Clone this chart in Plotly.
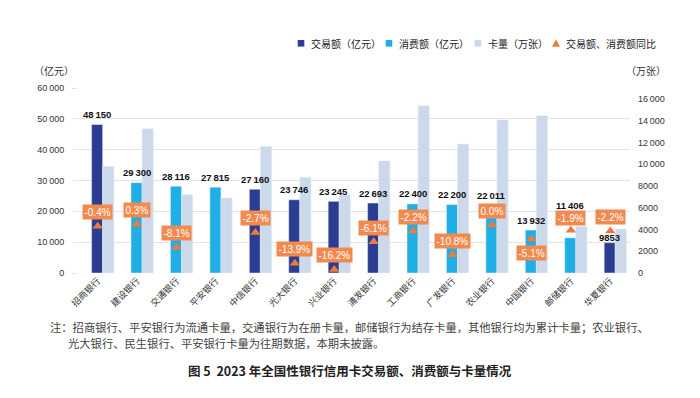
import plotly.graph_objects as go

banks = ["招商银行", "建设银行", "交通银行", "平安银行", "中信银行", "光大银行", "兴业银行",
         "浦发银行", "工商银行", "广发银行", "农业银行", "中国银行", "邮储银行", "华夏银行"]
trade = [48150, None, None, None, 27160, 23746, 23245, 22693, None, None, None, None, None, 9853]
consume = [None, 29300, 28116, 27815, None, None, None, None, 22400, 22200, 22011, 13932, 11406, None]
cards = [9800, 13250, 7200, 6900, 11640, 8790, 7200, 10300, 15360, 11860, 14070, 14460, 4280, 4050]
yoy = [-0.4, 0.3, -8.1, None, -2.7, -13.9, -16.2, -6.1, -2.2, -10.8, 0.0, -5.1, -1.9, -2.2]

left_ticks = [0, 10000, 20000, 30000, 40000, 50000, 60000]
right_ticks = [0, 2000, 4000, 6000, 8000, 10000, 12000, 14000, 16000]

legend_names = ["交易额（亿元）", "消费额（亿元）", "卡量（万张）", "交易额、消费额同比"]


def fmt(v):
    if v is None:
        return ""
    s = f"{int(v)}"
    if len(s) > 4:
        s = s[:-3] + "\u2009" + s[-3:]
    return s


NAVY = "#2A3D93"
CYAN = "#1FAEE5"
PALE = "#CBD9EA"
ORANGE = "#EE7B3A"
LABEL_BG = "#F28A50"
FONT = "Noto Sans CJK SC"
NUMFONT = "Liberation Sans, Arial"

# layout geometry (pixels)
W, H = 700, 398
ML, MR, MT, MB = 78, 70, 88, 125
PW, PH = W - ML - MR, H - MT - MB


def px(x):
    return (x - ML) / PW


def py(y):
    return (H - MB - y) / PH


fig = go.Figure()
fig.add_trace(go.Bar(x=banks, y=trade, name=legend_names[0], marker_color=NAVY,
                     offset=-0.155, width=0.28, yaxis="y", showlegend=False))
fig.add_trace(go.Bar(x=banks, y=consume, name=legend_names[1], marker_color=CYAN,
                     offset=-0.155, width=0.28, yaxis="y", showlegend=False))
fig.add_trace(go.Bar(x=banks, y=cards, name=legend_names[2], marker_color=PALE,
                     offset=0.125, width=0.285, yaxis="y2", showlegend=False))
fig.add_trace(go.Scatter(x=banks, y=yoy, name=legend_names[3], mode="markers",
                         marker=dict(symbol="triangle-up", size=9, color=ORANGE),
                         cliponaxis=False, yaxis="y3", showlegend=False))

# value labels above the main bars
value_shift = {"邮储银行": 32, "华夏银行": 5}
for b, t, c in zip(banks, trade, consume):
    v = t if t is not None else c
    if v is None:
        continue
    fig.add_annotation(x=b, y=v, xref="x", yref="y", text=f"<b>{fmt(v)}</b>", showarrow=False,
                       xshift=-0.6, yshift=value_shift.get(b, 10),
                       font=dict(family=NUMFONT, size=9.5, color="#111"))

# YoY labels
label_shift = {"中国银行": -14, "邮储银行": 12}
for b, v in zip(banks, yoy):
    if v is None:
        continue
    fig.add_annotation(
        x=b, y=v, xref="x", yref="y3", text=f"{v:.1f}%", showarrow=False,
        yshift=label_shift.get(b, 14), bgcolor=LABEL_BG, borderpad=1.5,
        font=dict(family=NUMFONT, size=10, color="white"))

fig.update_layout(
    width=W, height=H,
    margin=dict(l=ML, r=MR, t=MT, b=MB, autoexpand=False),
    paper_bgcolor="white", plot_bgcolor="white",
    barmode="overlay",
    font=dict(family=FONT, size=10, color="#333"),
    showlegend=False,
    xaxis=dict(range=[-0.5, 13.5], tickangle=-45, showgrid=False, zeroline=False,
               showline=False, ticks="", automargin=False,
               tickfont=dict(family=FONT, size=9, color="#333")),
    yaxis=dict(range=[0, 60000], tickvals=left_ticks, ticktext=[fmt(v) for v in left_ticks],
               showgrid=True, gridcolor="#E3E3E3", gridwidth=1, zeroline=False,
               ticks="outside", ticklen=5, tickcolor="#E3E3E3", ticklabelstandoff=6,
               automargin=False,
               tickfont=dict(family=NUMFONT, size=9, color="#333")),
    yaxis2=dict(range=[0, 17000], overlaying="y", side="right",
                tickvals=right_ticks, ticktext=[fmt(v) for v in right_ticks],
                showgrid=False, zeroline=False, ticks="", ticklabelstandoff=7,
                automargin=False,
                tickfont=dict(family=NUMFONT, size=9, color="#333")),
    yaxis3=dict(range=[-17.5, 50], overlaying="y", visible=False),
)

# manual legend (single row)
legend_y = 43.3
sq = 3.3
square_x = [301, 389, 478]
text_x = [309, 397, 486, 564]
for xc, col in zip(square_x, [NAVY, CYAN, PALE]):
    fig.add_shape(type="rect", xref="paper", yref="paper",
                  x0=px(xc - sq), x1=px(xc + sq), y0=py(legend_y + sq), y1=py(legend_y - sq),
                  fillcolor=col, line_width=0)
tx = 556
fig.add_shape(type="path", xref="paper", yref="paper",
              path=f"M {px(tx-4)},{py(legend_y+3.5)} L {px(tx+4)},{py(legend_y+3.5)} L {px(tx)},{py(legend_y-4)} Z",
              fillcolor=ORANGE, line_width=0)
for x0, name in zip(text_x, legend_names):
    fig.add_annotation(x=px(x0), y=py(legend_y), xref="paper", yref="paper", xanchor="left",
                       yanchor="middle", text=name, showarrow=False,
                       font=dict(family=FONT, size=10, color="#222"))

fig.add_annotation(x=px(53.5), y=py(70.5), xref="paper", yref="paper", xanchor="center",
                   yanchor="middle", text="（亿元）",
                   showarrow=False, font=dict(family=FONT, size=10, color="#333"))
fig.add_annotation(x=px(645.5), y=py(70), xref="paper", yref="paper", xanchor="center",
                   yanchor="middle", text="（万张）",
                   showarrow=False, font=dict(family=FONT, size=10, color="#333"))

fig.add_annotation(x=px(48), y=py(327), xref="paper", yref="paper", xanchor="left", yanchor="middle",
                   text="注：招商银行、平安银行为流通卡量，交通银行为在册卡量，邮储银行为结存卡量，其他银行均为累计卡量；农业银行、",
                   showarrow=False, font=dict(family=FONT, size=11.3, color="#444"))
fig.add_annotation(x=px(66), y=py(343), xref="paper", yref="paper", xanchor="left", yanchor="middle",
                   text="光大银行、民生银行、平安银行卡量为往期数据，本期未披露。",
                   showarrow=False, font=dict(family=FONT, size=11.3, color="#444"))
fig.add_annotation(x=px(350), y=py(370), xref="paper", yref="paper", xanchor="center", yanchor="middle",
                   text="<b>图 5  2023 年全国性银行信用卡交易额、消费额与卡量情况</b>",
                   showarrow=False, font=dict(family=FONT, size=12.5, color="#222"))

fig.write_html("out.html", config={"displayModeBar": False},
               post_script="document.body.style.margin='0';")
